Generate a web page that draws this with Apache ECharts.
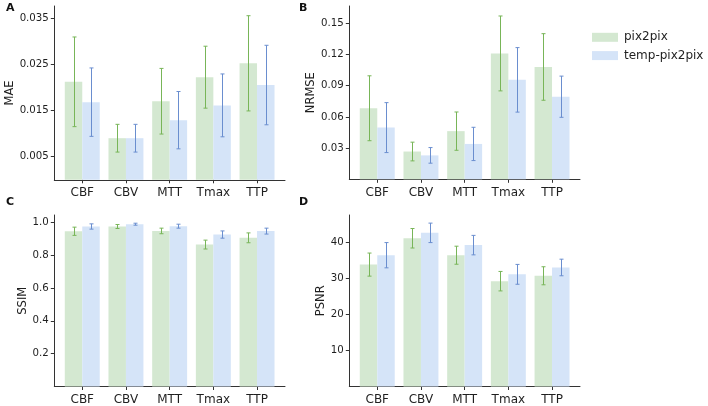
<!DOCTYPE html>
<html>
<head>
<meta charset="utf-8">
<script src="https://cdn.jsdelivr.net/npm/echarts@6/dist/echarts.min.js"></script>
<style>
  html, body { margin: 0; padding: 0; background: #fff; }
  #chart { width: 708px; height: 406px; }
</style>
</head>
<body>
<div id="chart"></div>
<script>
// ---- data ----
var categories = ['CBF', 'CBV', 'MTT', 'Tmax', 'TTP'];
var seriesNames = ['pix2pix', 'temp-pix2pix'];

var maePix2pix = [0.0212, 0.0090, 0.0170, 0.0222, 0.0252];
var maePix2pixStd = [0.0097, 0.0030, 0.0071, 0.0067, 0.0103];
var maeTemp = [0.0168, 0.0090, 0.0129, 0.0161, 0.0205];
var maeTempStd = [0.0074, 0.0030, 0.0062, 0.0068, 0.0086];

var nrmsePix2pix = [0.0683, 0.0267, 0.0463, 0.1210, 0.1080];
var nrmsePix2pixStd = [0.0312, 0.0090, 0.0184, 0.0360, 0.0320];
var nrmseTemp = [0.0497, 0.0230, 0.0340, 0.0956, 0.0794];
var nrmseTempStd = [0.0240, 0.0075, 0.0160, 0.0310, 0.0198];

var ssimPix2pix = [0.945, 0.974, 0.947, 0.864, 0.905];
var ssimPix2pixStd = [0.025, 0.012, 0.017, 0.027, 0.030];
var ssimTemp = [0.974, 0.988, 0.976, 0.925, 0.946];
var ssimTempStd = [0.016, 0.006, 0.012, 0.022, 0.018];

var psnrPix2pix = [33.8, 41.1, 36.4, 29.2, 30.7];
var psnrPix2pixStd = [3.2, 2.7, 2.5, 2.7, 2.5];
var psnrTemp = [36.4, 42.6, 39.2, 31.1, 33.0];
var psnrTempStd = [3.5, 2.7, 2.7, 2.75, 2.3];

var maeTicks = [0.005, 0.015, 0.025, 0.035];
var nrmseTicks = [0.03, 0.06, 0.09, 0.12, 0.15];
var ssimTicks = [0.2, 0.4, 0.6, 0.8, 1.0];
var psnrTicks = [10, 20, 30, 40];
var catPositions = [0, 1, 2, 3, 4];

// ---- style ----
var FONT = 'DejaVu Sans';
var AXIS_COLOR = '#333333';
var TEXT_COLOR = '#1f1f1f';
var BAR_COLORS = ['#d4e8d1', '#d5e4f8'];
var ERR_COLORS = ['#78b558', '#6a8ecf'];

var chart = echarts.init(document.getElementById('chart'), null, {renderer: 'canvas'});

var panels = [
  {grid: {left: 54.3, top: 6, width: 230.7, height: 173.8}, max: 0.0376, ticks: maeTicks, name: 'MAE', nameGap: 37,
   fmt: function (v) { return v.toFixed(3); },
   vals: [maePix2pix, maeTemp], stds: [maePix2pixStd, maeTempStd]},
  {grid: {left: 349.3, top: 6, width: 230.7, height: 173.3}, max: 0.1666, ticks: nrmseTicks, name: 'NRMSE', nameGap: 30,
   fmt: function (v) { return v.toFixed(2); },
   vals: [nrmsePix2pix, nrmseTemp], stds: [nrmsePix2pixStd, nrmseTempStd]},
  {grid: {left: 54.3, top: 215, width: 230.7, height: 172.3}, max: 1.044, ticks: ssimTicks, name: 'SSIM', nameGap: 24,
   fmt: function (v) { return v.toFixed(1); },
   vals: [ssimPix2pix, ssimTemp], stds: [ssimPix2pixStd, ssimTempStd]},
  {grid: {left: 349.3, top: 215, width: 230.7, height: 172.3}, max: 47.55, ticks: psnrTicks, name: 'PSNR', nameGap: 20,
   fmt: function (v) { return String(Math.round(v)); },
   vals: [psnrPix2pix, psnrTemp], stds: [psnrPix2pixStd, psnrTempStd]}
];

var grids = [], xAxes = [], yAxes = [], series = [];

panels.forEach(function (p, gi) {
  grids.push(p.grid);
  xAxes.push({
    type: 'value', gridIndex: gi, min: -0.64, max: 4.64,
    splitLine: {show: false},
    axisLine: {show: true, onZero: false, lineStyle: {color: AXIS_COLOR, width: 1}},
    axisTick: {show: true, length: 3.5, customValues: catPositions, lineStyle: {color: AXIS_COLOR}},
    axisLabel: {
      customValues: catPositions, margin: 7.5,
      fontFamily: FONT, fontSize: 12, color: TEXT_COLOR,
      formatter: function (v) { return categories[Math.round(v)]; }
    }
  });
  yAxes.push({
    type: 'value', gridIndex: gi, min: 0, max: p.max,
    name: p.name, nameLocation: 'middle', nameGap: p.nameGap,
    nameTextStyle: {fontFamily: FONT, fontSize: 11.5, color: TEXT_COLOR},
    splitLine: {show: false},
    axisLine: {show: true, onZero: false, lineStyle: {color: AXIS_COLOR, width: 1}},
    axisTick: {show: true, length: 3.5, customValues: p.ticks, lineStyle: {color: AXIS_COLOR}},
    axisLabel: {
      customValues: p.ticks, margin: 5.5,
      fontFamily: FONT, fontSize: 10.2, color: TEXT_COLOR,
      formatter: p.fmt
    }
  });

  [0, 1].forEach(function (si) {
    var data = categories.map(function (c, i) { return [i, p.vals[si][i], p.stds[si][i]]; });
    var off0 = si === 0 ? -0.4 : 0;
    var off1 = si === 0 ? 0 : 0.4;
    series.push({
      type: 'custom', name: seriesNames[si], xAxisIndex: gi, yAxisIndex: gi,
      itemStyle: {color: BAR_COLORS[si]},
      encode: {x: 0, y: 1},
      silent: true,
      renderItem: function (params, api) {
        var x = api.value(0), y = api.value(1);
        var a = api.coord([x + off0, 0]);
        var b = api.coord([x + off1, y]);
        return {
          type: 'rect',
          shape: {x: a[0], y: b[1], width: b[0] - a[0], height: a[1] - b[1]},
          style: {fill: BAR_COLORS[si]}
        };
      },
      data: data, z: 2
    });
    series.push({
      type: 'custom', name: seriesNames[si] + '-err', xAxisIndex: gi, yAxisIndex: gi,
      encode: {x: 0, y: 1},
      silent: true,
      renderItem: function (params, api) {
        var x = api.value(0) + (si === 0 ? -0.2 : 0.2);
        var y = api.value(1), s = api.value(2);
        var top = api.coord([x, y + s]);
        var bot = api.coord([x, y - s]);
        var cx = Math.round(top[0]) + 0.5;
        var c = 2;
        var st = {stroke: ERR_COLORS[si], lineWidth: 1, fill: null};
        return {
          type: 'group',
          children: [
            {type: 'line', shape: {x1: cx, y1: top[1], x2: cx, y2: bot[1]}, style: st},
            {type: 'line', shape: {x1: cx - c, y1: top[1], x2: cx + c, y2: top[1]}, style: st},
            {type: 'line', shape: {x1: cx - c, y1: bot[1], x2: cx + c, y2: bot[1]}, style: st}
          ]
        };
      },
      data: data, z: 3
    });
  });
});

var letters = [['A', 6, 3], ['B', 299, 3], ['C', 6, 197], ['D', 299, 197]];

chart.setOption({
  animation: false,
  backgroundColor: '#ffffff',
  grid: grids,
  xAxis: xAxes,
  yAxis: yAxes,
  series: series,
  legend: {
    data: seriesNames,
    orient: 'vertical',
    left: 587, top: 25.3,
    icon: 'rect', itemWidth: 26, itemHeight: 9, itemGap: 4.3,
    selectedMode: false,
    textStyle: {fontFamily: FONT, fontSize: 12, color: TEXT_COLOR, lineHeight: 14, padding: [0, 0, 0, 1]}
  },
  graphic: letters.map(function (l) {
    return {
      type: 'text', left: l[1], top: l[2],
      style: {text: l[0], fontFamily: FONT, fontWeight: 'bold', fontSize: 11, fill: '#111'}
    };
  })
});
</script>
</body>
</html>
